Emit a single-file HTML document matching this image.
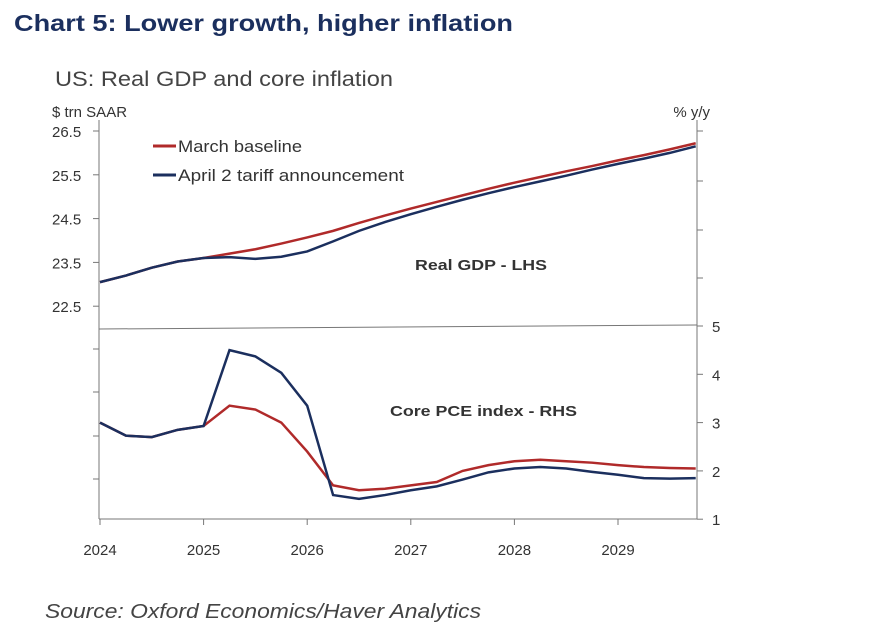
<!DOCTYPE html>
<html><head><meta charset="utf-8"><style>
body{margin:0;background:#fff;width:872px;height:636px;overflow:hidden;font-family:"Liberation Sans",sans-serif}
svg text{font-family:"Liberation Sans",sans-serif}
</style></head><body>
<svg id="chart" width="872" height="636">
<text x="14" y="31" font-size="23" font-weight="bold" fill="#1b2f5e" textLength="499" lengthAdjust="spacingAndGlyphs">Chart 5: Lower growth, higher inflation</text>
<text x="55" y="86" font-size="21" fill="#444" textLength="338" lengthAdjust="spacingAndGlyphs">US: Real GDP and core inflation</text>
<text x="52" y="117" font-size="15" fill="#333">$ trn SAAR</text>
<text x="710" y="117" font-size="15" fill="#333" text-anchor="end">% y/y</text>
<text x="415" y="270" font-size="15" font-weight="bold" fill="#333" textLength="132" lengthAdjust="spacingAndGlyphs">Real GDP - LHS</text>
<text x="390" y="416" font-size="15" font-weight="bold" fill="#333" textLength="187" lengthAdjust="spacingAndGlyphs">Core PCE index - RHS</text>
<text x="45" y="618" font-size="20" font-style="italic" fill="#444" textLength="436" lengthAdjust="spacingAndGlyphs">Source: Oxford Economics/Haver Analytics</text>
<g id="axes"></g><g id="series"></g>
<line x1="153" y1="146" x2="176" y2="146" stroke="#b02a2a" stroke-width="3"/>
<text x="178" y="152" font-size="17" fill="#333" textLength="124" lengthAdjust="spacingAndGlyphs">March baseline</text>
<line x1="153" y1="175" x2="176" y2="175" stroke="#1b2f5e" stroke-width="3"/>
<text x="178" y="181" font-size="17" fill="#333" textLength="226" lengthAdjust="spacingAndGlyphs">April 2 tariff announcement</text>
</svg>
<script>
const years=["2024","2025","2026","2027","2028","2029"];
const gdpTicks=[26.5,25.5,24.5,23.5,22.5];
const pceTicks=[5,4,3,2,1];
const gdpMarch=[23.05,23.2,23.38,23.52,23.6,23.7,23.8,23.93,24.07,24.22,24.4,24.57,24.73,24.88,25.03,25.18,25.32,25.45,25.58,25.7,25.83,25.95,26.08,26.22];
const gdpApril=[23.05,23.2,23.38,23.52,23.6,23.62,23.58,23.63,23.75,23.98,24.22,24.42,24.6,24.77,24.93,25.08,25.22,25.35,25.48,25.62,25.75,25.87,26.0,26.15];
const pceMarch=[3.0,2.73,2.7,2.85,2.93,3.35,3.27,3.0,2.4,1.7,1.6,1.63,1.7,1.77,2.0,2.12,2.2,2.23,2.2,2.17,2.12,2.08,2.06,2.05];
const pceApril=[3.0,2.73,2.7,2.85,2.93,4.5,4.37,4.03,3.35,1.5,1.42,1.5,1.6,1.68,1.82,1.97,2.05,2.08,2.05,1.98,1.92,1.85,1.84,1.85];
const NS="http://www.w3.org/2000/svg";
const X0=100,PX=103.6;
const xq=i=>X0+i*PX/4;
const yG=v=>131+(26.5-v)*43.8;
const yP=v=>326+(5-v)*48.3;
const ax=document.getElementById('axes'),se=document.getElementById('series');
function el(t,a,p){const e=document.createElementNS(NS,t);for(const k in a)e.setAttribute(k,a[k]);p.appendChild(e);return e;}
let e;
e=el('line',{x1:99,y1:120,x2:99,y2:519,stroke:'#777'},ax);


e=el('line',{x1:697,y1:120,x2:697,y2:519,stroke:'#777'},ax);


e=el('line',{x1:99,y1:519,x2:697,y2:519,stroke:'#777'},ax);


e=el('line',{x1:99,y1:329,x2:697,y2:325,stroke:'#777'},ax);


gdpTicks.forEach(v=>{const y=yG(v);el('line',{x1:93,y1:y,x2:99,y2:y,stroke:'#777'},ax);
e=el('text',{x:52,y:y+6,'font-size':15,fill:'#333'},ax);e.textContent=v.toFixed(1);

});
[349,392,436,479].forEach(y=>el('line',{x1:93,y1:y,x2:99,y2:y,stroke:'#777'},ax));
[131,181,230,278].forEach(y=>el('line',{x1:697,y1:y,x2:703,y2:y,stroke:'#777'},ax));
pceTicks.forEach(v=>{const y=yP(v);el('line',{x1:697,y1:y,x2:703,y2:y,stroke:'#777'},ax);
e=el('text',{x:712,y:y+6,'font-size':15,fill:'#333'},ax);e.textContent=v;

});
years.forEach((t,i)=>{const x=X0+i*PX;el('line',{x1:x,y1:519,x2:x,y2:525,stroke:'#777'},ax);
e=el('text',{x:x,y:555,'font-size':15,fill:'#333','text-anchor':'middle'},ax);e.textContent=t;

});
function line(d,yf,c,n){e=el('polyline',{points:d.map((v,i)=>xq(i)+','+yf(v)).join(' '),fill:'none',stroke:c,'stroke-width':2.5},se);

}
line(gdpMarch,yG,'#b02a2a','gdp-march-line');
line(pceMarch,yP,'#b02a2a','pce-march-line');
line(gdpApril,yG,'#1b2f5e','gdp-april-line');
line(pceApril,yP,'#1b2f5e','pce-april-line');
</script>
</body></html>
